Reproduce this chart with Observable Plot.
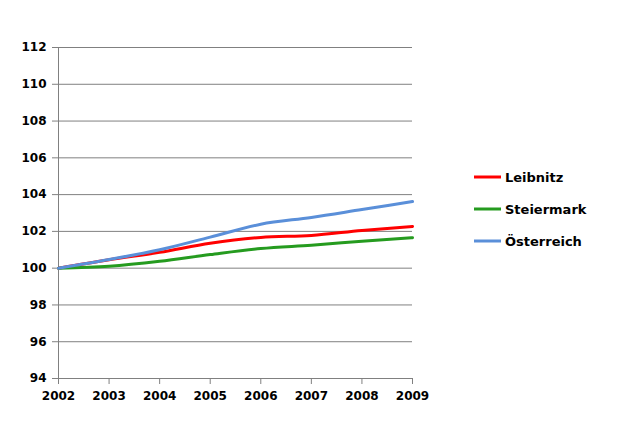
<!DOCTYPE html>
<html>
<head>
<meta charset="utf-8">
<script src="https://cdn.jsdelivr.net/npm/d3@7"></script>
<script src="https://cdn.jsdelivr.net/npm/@observablehq/plot@0.6"></script>
<style>
  html, body { margin: 0; padding: 0; background: #fff; }
  #chart svg { display: block; }
</style>
</head>
<body>
<div id="chart"></div>
<script>
const years = [2002, 2003, 2004, 2005, 2006, 2007, 2008, 2009];
const leibnitz   = [100, 100.46, 100.86, 101.35, 101.67, 101.78, 102.05, 102.27];
const steiermark = [100, 100.10, 100.37, 100.74, 101.07, 101.25, 101.46, 101.66];
const oesterreich = [100, 100.47, 101.00, 101.69, 102.39, 102.76, 103.19, 103.62];
const seriesNames = ["Leibnitz", "Steiermark", "Österreich"];
const seriesColors = ["#ff0000", "#259b1f", "#5a8fd9"];
const yTicks = [94, 96, 98, 100, 102, 104, 106, 108, 110, 112];

const seriesValues = [leibnitz, steiermark, oesterreich];
const rows = [];
seriesNames.forEach((name, i) => {
  years.forEach((yr, j) => rows.push({ series: name, year: yr, value: seriesValues[i][j] }));
});

const W = 631, H = 432;
const font = "DejaVu Sans, Verdana, sans-serif";

const plot = Plot.plot({
  width: W,
  height: H,
  marginLeft: 58,
  marginRight: 219,
  marginTop: 47,
  marginBottom: 54,
  style: { fontFamily: font, fontSize: "12px", fontWeight: "bold", color: "#000", background: "#fff" },
  x: { domain: [2002, 2009] },
  y: { domain: [94, 112] },
  color: { domain: seriesNames, range: seriesColors },
  marks: [
    Plot.gridY(yTicks, { stroke: "#808080", strokeOpacity: 1, strokeWidth: 1 }),
    Plot.ruleX([2002], { stroke: "#808080", strokeWidth: 1 }),
    Plot.axisY(yTicks, { tickSize: 6, tickPadding: 6, stroke: "#808080", fill: "#000", label: null, fontWeight: "bold" }),
    Plot.axisX(years, { tickSize: 6, tickPadding: 7, tickFormat: d => String(d), stroke: "#808080", fill: "#000", label: null, fontWeight: "bold" }),
    Plot.line(rows, { x: "year", y: "value", z: "series", stroke: "series", strokeWidth: 3, curve: "monotone-x" })
  ]
});

// Legend on the right (inside the same SVG)
const svg = d3.select(plot);
const legendYs = [177, 209, 241];
const g = svg.append("g").attr("text-anchor", "start");
seriesNames.forEach((name, i) => {
  g.append("line")
    .attr("x1", 474).attr("x2", 501)
    .attr("y1", legendYs[i]).attr("y2", legendYs[i])
    .attr("stroke", seriesColors[i]).attr("stroke-width", 3);
  g.append("text")
    .attr("x", 505).attr("y", legendYs[i])
    .attr("dy", "0.35em")
    .attr("text-anchor", "start")
    .attr("font-family", font)
    .attr("font-size", 13)
    .attr("font-weight", "bold")
    .attr("fill", "#000")
    .text(name);
});

document.getElementById("chart").appendChild(plot);
</script>
</body>
</html>
